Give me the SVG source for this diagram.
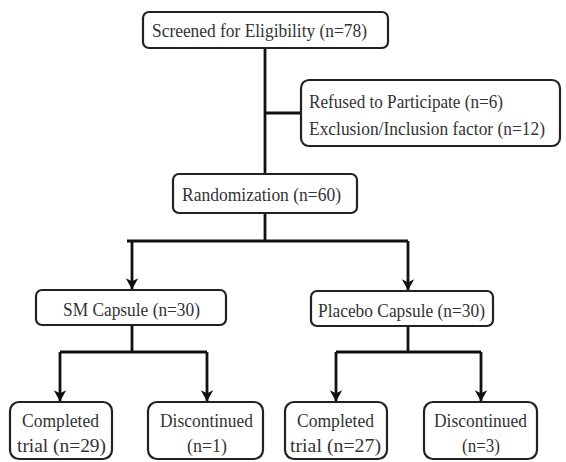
<svg xmlns="http://www.w3.org/2000/svg" width="566" height="462" viewBox="0 0 566 462">
<defs>
<marker id="arr" viewBox="0 0 10 12" refX="9.5" refY="6" markerWidth="4" markerHeight="4.8" orient="auto" markerUnits="strokeWidth">
<path d="M0,0.5 L10,6 L0,11.5 L2.5,6 Z" fill="#111"/>
</marker>
<style>
.box{fill:#fff;stroke:#222;stroke-width:2.2}
text{font-family:'Liberation Serif','Times New Roman',serif;font-size:19px;fill:#333}
.t{text-anchor:middle}
.c{fill:none;stroke:#111;stroke-width:2.8}
.a{fill:none;stroke:#111;stroke-width:2.8;marker-end:url(#arr)}
</style>
</defs>
<rect width="566" height="462" fill="#fff"/>
<g id="connectors">
<path class="c" d="M265,48 V241"/>
<path class="c" d="M265,113 H301"/>
<path class="c" d="M127,241 H408"/>
<path class="a" d="M132,241 V289"/>
<path class="a" d="M408,241 V290"/>
<path class="c" d="M132,325 V352"/>
<path class="c" d="M60,352 H207"/>
<path class="a" d="M60,352 V401"/>
<path class="a" d="M207,352 V401"/>
<path class="c" d="M408,326 V352"/>
<path class="c" d="M336,352 H481"/>
<path class="a" d="M336,352 V401"/>
<path class="a" d="M481,352 V401"/>
</g>
<g id="screened">
<rect class="box" x="143" y="12" width="245" height="36" rx="6"/>
<text x="152" y="37" textLength="215" lengthAdjust="spacingAndGlyphs">Screened for Eligibility (n=78)</text>
</g>
<g id="excluded">
<rect class="box" x="301" y="80" width="259" height="66" rx="8"/>
<text x="309" y="108" textLength="194" lengthAdjust="spacingAndGlyphs">Refused to Participate (n=6)</text>
<text x="309" y="135" textLength="236" lengthAdjust="spacingAndGlyphs">Exclusion/Inclusion factor (n=12)</text>
</g>
<g id="randomization">
<rect class="box" x="173" y="174" width="184" height="39" rx="6"/>
<text x="182" y="201" textLength="159" lengthAdjust="spacingAndGlyphs">Randomization (n=60)</text>
</g>
<g id="sm">
<rect class="box" x="36" y="290" width="190" height="35" rx="6"/>
<text x="63" y="316" textLength="137" lengthAdjust="spacingAndGlyphs">SM Capsule (n=30)</text>
</g>
<g id="placebo">
<rect class="box" x="311" y="291" width="182" height="35" rx="6"/>
<text x="318" y="317" textLength="167" lengthAdjust="spacingAndGlyphs">Placebo Capsule (n=30)</text>
</g>
<g id="sm-completed">
<rect class="box" x="10" y="402" width="102" height="57" rx="9"/>
<text x="22" y="427" textLength="77" lengthAdjust="spacingAndGlyphs">Completed</text>
<text x="17" y="452" textLength="89" lengthAdjust="spacingAndGlyphs">trial (n=29)</text>
</g>
<g id="sm-discontinued">
<rect class="box" x="148" y="402" width="115" height="57" rx="9"/>
<text x="160" y="427" textLength="93" lengthAdjust="spacingAndGlyphs">Discontinued</text>
<text x="187" y="452" textLength="40" lengthAdjust="spacingAndGlyphs">(n=1)</text>
</g>
<g id="pl-completed">
<rect class="box" x="285" y="402" width="102" height="57" rx="9"/>
<text x="297" y="427" textLength="77" lengthAdjust="spacingAndGlyphs">Completed</text>
<text x="290" y="452" textLength="91" lengthAdjust="spacingAndGlyphs">trial (n=27)</text>
</g>
<g id="pl-discontinued">
<rect class="box" x="424" y="402" width="113" height="57" rx="9"/>
<text x="434" y="427" textLength="93" lengthAdjust="spacingAndGlyphs">Discontinued</text>
<text x="462" y="452" textLength="38" lengthAdjust="spacingAndGlyphs">(n=3)</text>
</g>
</svg>
